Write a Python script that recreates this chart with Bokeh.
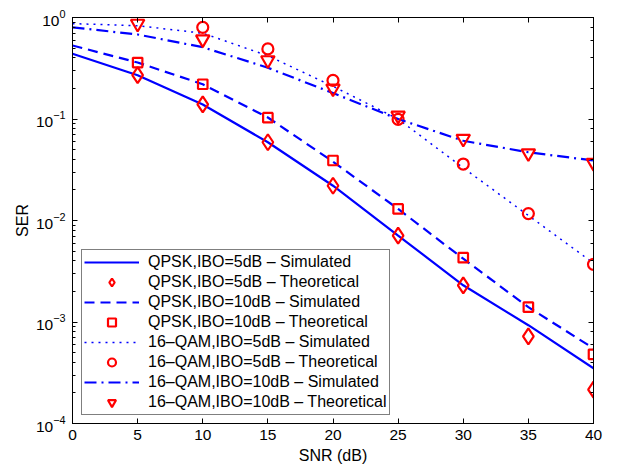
from bokeh.plotting import figure
from bokeh.models import (Legend, LegendItem, LinearAxis, LogAxis, FixedTicker,
                          LogTicker)
from bokeh.embed import file_html
from bokeh.resources import INLINE

# ---- data ----
snr = [0, 5, 10, 15, 20, 25, 30, 35, 40]
qpsk5_sim = [0.44, 0.27, 0.139, 0.059, 0.022, 0.0071, 0.0023, 0.00093, 0.00035]
qpsk10_sim = [0.53, 0.36, 0.22, 0.1035, 0.038, 0.013, 0.0042, 0.0014, 0.00055]
qam5_sim = [0.87, 0.83, 0.70, 0.42, 0.21, 0.10, 0.033, 0.0112, 0.0038]
qam10_sim = [0.80, 0.68, 0.51, 0.32, 0.18, 0.10, 0.061, 0.047, 0.039]

snr_th = [5, 10, 15, 20, 25, 30, 35, 40]
qpsk5_th = [0.27, 0.139, 0.059, 0.022, 0.0071, 0.0023, 0.00072, 0.000216]
qpsk10_th = [0.36, 0.22, 0.103, 0.039, 0.013, 0.0043, 0.0014, 0.00048]
snr_qam5_th = [10, 15, 20, 25, 30, 35, 40]
qam5_th = [0.8, 0.49, 0.24, 0.099, 0.036, 0.0117, 0.0037]
qam10_th = [0.87, 0.61, 0.38, 0.20, 0.108, 0.064, 0.046, 0.037]

x_ticks = [0, 5, 10, 15, 20, 25, 30, 35, 40]
labels = [
    "QPSK,IBO=5dB \u2013 Simulated",
    "QPSK,IBO=5dB \u2013 Theoretical",
    "QPSK,IBO=10dB \u2013 Simulated",
    "QPSK,IBO=10dB \u2013 Theoretical",
    "16\u2013QAM,IBO=5dB \u2013 Simulated",
    "16\u2013QAM,IBO=5dB \u2013 Theoretical",
    "16\u2013QAM,IBO=10dB \u2013 Simulated",
    "16\u2013QAM,IBO=10dB \u2013 Theoretical",
]

BLUE = "#0000ff"
RED = "#ff0000"
FONT = "Liberation Sans"

p = figure(x_range=(0, 40), y_range=(1e-4, 1), y_axis_type="log",
           frame_width=521, frame_height=406,
           min_border_left=72, min_border_right=20, min_border_top=17, min_border_bottom=40,
           output_backend="svg", toolbar_location=None)
p.xgrid.grid_line_color = None
p.ygrid.grid_line_color = None
p.outline_line_color = "black"
p.background_fill_color = "white"

r1 = p.line(snr, qpsk5_sim, line_color=BLUE, line_width=2.2)
r2 = p.scatter(snr_th, qpsk5_th, marker="diamond", size=16, line_color=RED,
               fill_color=None, line_width=2.2)
r3 = p.line(snr, qpsk10_sim, line_color=BLUE, line_width=2.2, line_dash="10 6")
r4 = p.scatter(snr_th, qpsk10_th, marker="square", size=9.5, line_color=RED,
               fill_color=None, line_width=2.2)
r5 = p.line(snr, qam5_sim, line_color=BLUE, line_width=1.5, line_dash="2 5")
r6 = p.scatter(snr_qam5_th, qam5_th, marker="circle", size=11, line_color=RED,
               fill_color=None, line_width=2.2)
r7 = p.line(snr, qam10_sim, line_color=BLUE, line_width=2.2, line_dash="12 5 2 5")
r8 = p.scatter(snr_th, qam10_th, marker="inverted_triangle", size=13.5, line_color=RED,
               fill_color=None, line_width=2.2)

renderers = [r1, r2, r3, r4, r5, r6, r7, r8]
legend = Legend(items=[LegendItem(label=l, renderers=[r]) for l, r in zip(labels, renderers)],
                location=(9, 8))
legend.margin = 0
legend.padding = 2
legend.spacing = 0
legend.glyph_width = 55
legend.glyph_height = 20
legend.label_height = 20
legend.label_standoff = 9
legend.label_text_font = FONT
legend.label_text_font_size = "16px"
legend.label_text_color = "black"
legend.border_line_color = "black"
legend.border_line_width = 1
legend.background_fill_alpha = 1
p.add_layout(legend, "center")

xt = FixedTicker(ticks=x_ticks, minor_ticks=[])
p.xaxis.ticker = xt
p.xaxis.axis_label = "SNR (dB)"
p.yaxis.axis_label = "SER"

for ax in (p.xaxis[0], p.yaxis[0]):
    ax.major_tick_in = 5
    ax.major_tick_out = 0
    ax.minor_tick_in = 3
    ax.minor_tick_out = 0
    ax.axis_line_color = "black"
    ax.major_tick_line_color = "black"
    ax.minor_tick_line_color = "black"
    ax.major_label_text_font = FONT
    ax.major_label_text_font_size = "15.5px"
    ax.major_label_text_color = "black"
    ax.axis_label_text_font = FONT
    ax.axis_label_text_font_size = "16px"
    ax.axis_label_text_font_style = "normal"
    ax.axis_label_text_color = "black"
p.xaxis.major_label_standoff = 6
p.xaxis.axis_label_standoff = 4
p.yaxis.major_label_standoff = 7
p.yaxis.axis_label_standoff = 2

top = LinearAxis(ticker=FixedTicker(ticks=x_ticks, minor_ticks=[]))
right = LogAxis(ticker=LogTicker())
for ax in (top, right):
    ax.major_tick_in = 5
    ax.major_tick_out = 0
    ax.minor_tick_in = 3
    ax.minor_tick_out = 0
    ax.major_label_text_font_size = "1px"
    ax.major_label_text_color = None
    ax.major_label_standoff = 0
    ax.axis_line_color = "black"
p.add_layout(top, "above")
p.add_layout(right, "right")

open("out.html", "w").write(file_html(p, INLINE))
